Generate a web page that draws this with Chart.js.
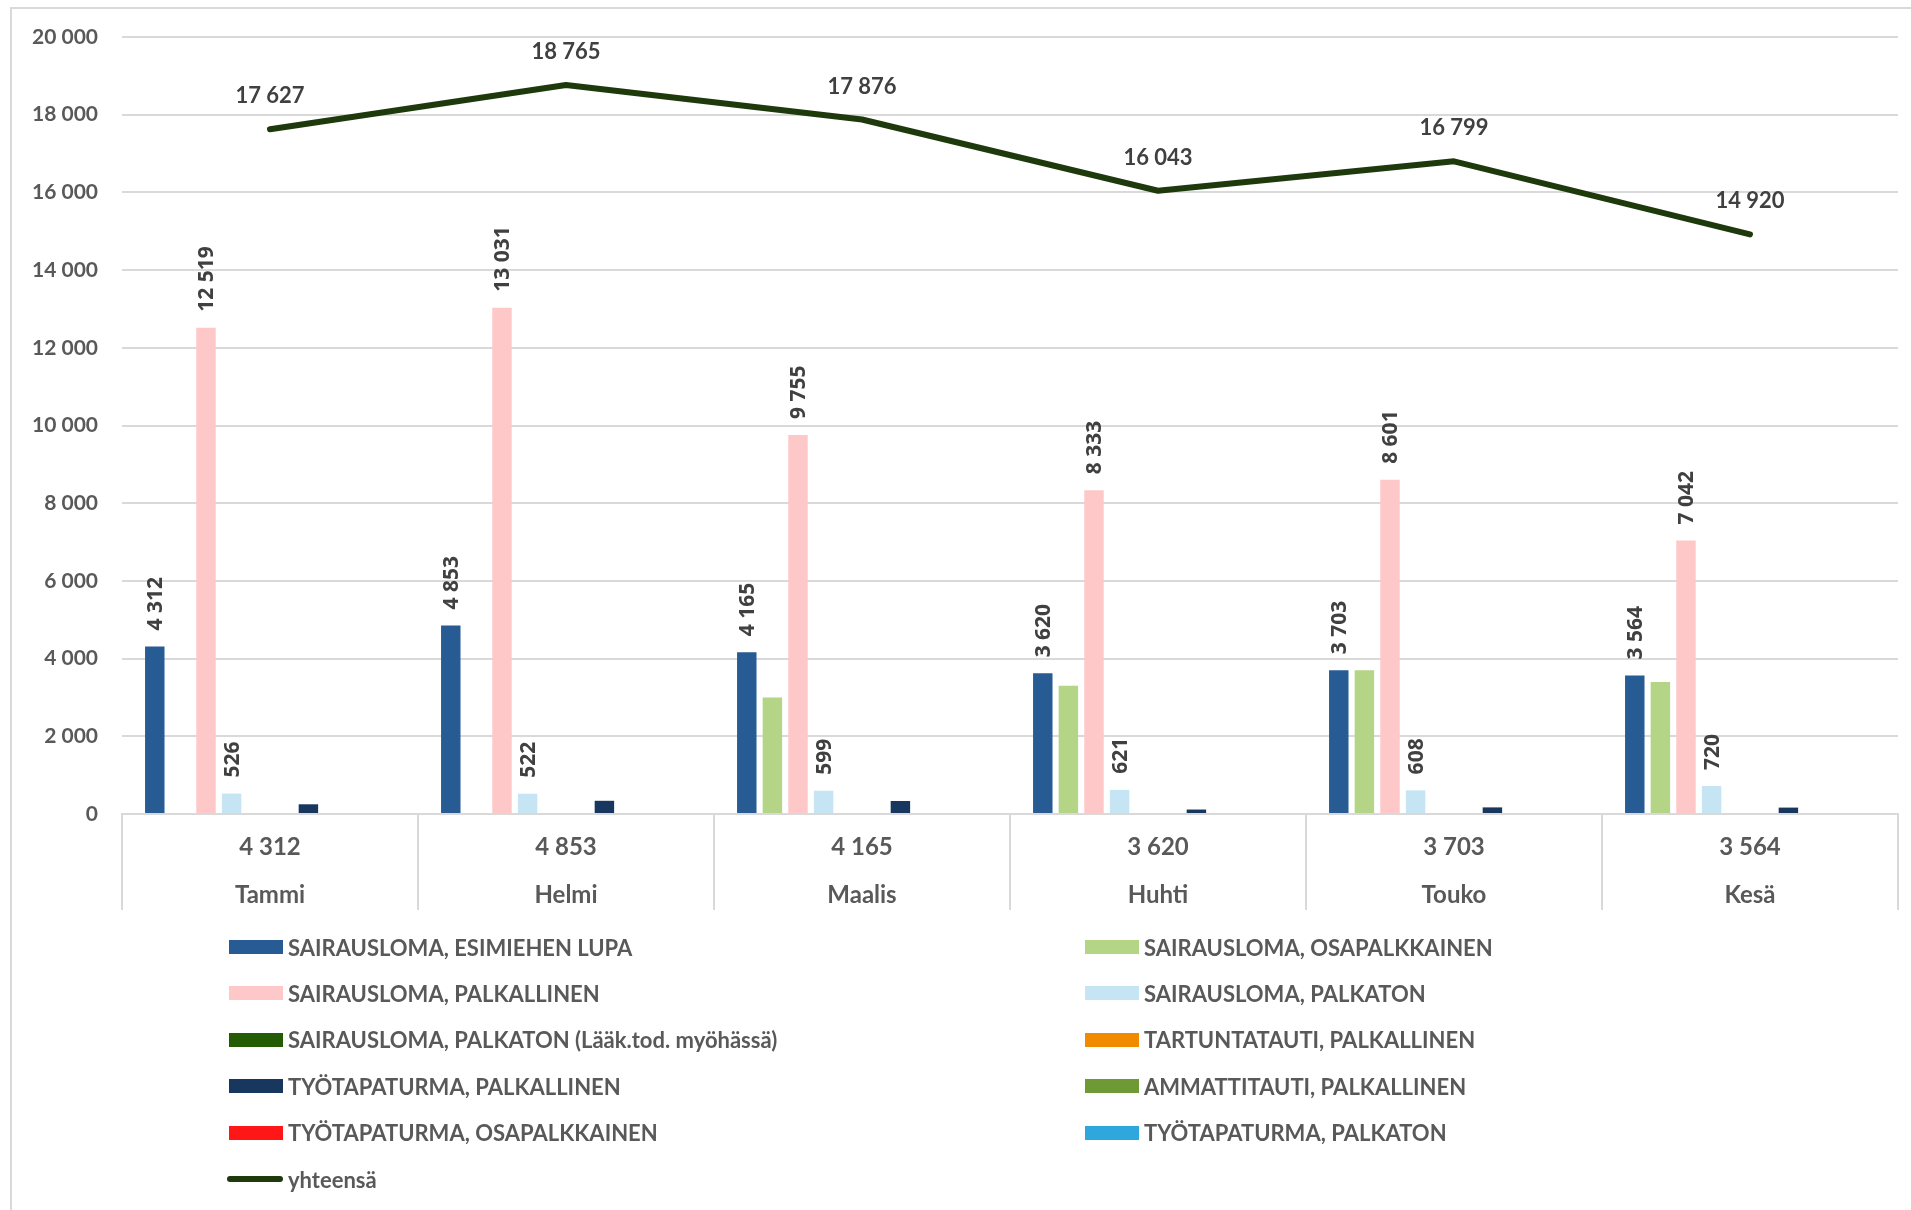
<!DOCTYPE html>
<html>
<head>
<meta charset="utf-8">
<script src="https://cdn.jsdelivr.net/npm/chart.js@4.4.1/dist/chart.umd.min.js"></script>
<style>
  html, body { margin: 0; padding: 0; background: #fff; overflow: hidden; width: 1911px; height: 1210px; }
  #frame { position: absolute; left: 10px; top: 7px; width: 2100px; height: 1400px; border: 2px solid #d9d9d9; box-sizing: border-box; }
  #wrap { position: absolute; left: 0; top: 0; width: 1911px; height: 1210px; }
  #legend { position: absolute; left: 0; top: 0; width: 1911px; height: 1210px; pointer-events: none; }
  .item { position: absolute; height: 30px; display: flex; align-items: center; font: bold 22px Lato, sans-serif; color: #595959; white-space: nowrap; }
  .sw { width: 54px; height: 14px; margin-right: 5px; }
  .ln { width: 56px; height: 6px; border-radius: 3px; margin-right: 5px; }
</style>
</head>
<body>
<div id="frame"></div>
<div id="wrap"><canvas id="c" width="1911" height="1210"></canvas></div>
<div id="legend"></div>
<script>
// ---- data ----
const months = ['Tammi', 'Helmi', 'Maalis', 'Huhti', 'Touko', 'Kesä'];
const esimiehenLupa = [4312, 4853, 4165, 3620, 3703, 3564];
const osapalkkainen = [0, 0, 3000, 3300, 3700, 3400];
const palkallinen = [12519, 13031, 9755, 8333, 8601, 7042];
const palkaton = [526, 522, 599, 621, 608, 720];
const palkatonLaak = [0, 0, 0, 0, 0, 0];
const tartuntatauti = [0, 0, 0, 0, 0, 0];
const tyotapPalkallinen = [250, 340, 335, 115, 170, 165];
const ammattitauti = [0, 0, 0, 0, 0, 0];
const tyotapOsapalkkainen = [0, 0, 0, 0, 0, 0];
const tyotapPalkaton = [0, 0, 0, 0, 0, 0];
const yhteensa = [17627, 18765, 17876, 16043, 16799, 14920];
const tableRow = esimiehenLupa;
const yMin = 0, yMax = 20000, yStep = 2000;

const seriesNames = [
  'SAIRAUSLOMA, ESIMIEHEN LUPA',
  'SAIRAUSLOMA, OSAPALKKAINEN',
  'SAIRAUSLOMA, PALKALLINEN',
  'SAIRAUSLOMA, PALKATON',
  'SAIRAUSLOMA, PALKATON (Lääk.tod. myöhässä)',
  'TARTUNTATAUTI, PALKALLINEN',
  'TYÖTAPATURMA, PALKALLINEN',
  'AMMATTITAUTI, PALKALLINEN',
  'TYÖTAPATURMA, OSAPALKKAINEN',
  'TYÖTAPATURMA, PALKATON',
  'yhteensä'
];
const seriesValues = [esimiehenLupa, osapalkkainen, palkallinen, palkaton, palkatonLaak,
  tartuntatauti, tyotapPalkallinen, ammattitauti, tyotapOsapalkkainen, tyotapPalkaton];
const seriesColors = ['#275b94', '#b4d486', '#ffc8c8', '#c6e5f4', '#245c06', '#f28a00',
  '#17375e', '#6e9a35', '#ff1616', '#2ea7dd'];
const labelled = [true, false, true, true, false, false, false, false, false, false];
const lineColor = '#1e3a0c';

function fmt(v) { return String(v).replace(/\B(?=(\d{3})+(?!\d))/g, ' '); }

const datasets = seriesValues.map((vals, i) => ({
  type: 'bar',
  label: seriesNames[i],
  data: vals,
  backgroundColor: seriesColors[i],
  borderWidth: 0,
  categoryPercentage: 0.865,
  barPercentage: 0.76,
  showValues: labelled[i]
}));
datasets.push({
  type: 'line',
  label: seriesNames[10],
  data: yhteensa,
  borderColor: lineColor,
  backgroundColor: lineColor,
  borderWidth: 6,
  pointRadius: 0,
  tension: 0,
  fill: false,
  borderCapStyle: 'round',
  borderJoinStyle: 'round',
  showValues: true
});

const valueLabels = {
  id: 'valueLabels',
  afterDatasetsDraw(chart) {
    const ctx = chart.ctx;
    chart.data.datasets.forEach((ds, di) => {
      if (!ds.showValues) return;
      const meta = chart.getDatasetMeta(di);
      meta.data.forEach((el, i) => {
        const v = ds.data[i];
        ctx.save();
        ctx.fillStyle = '#404040';
        if (ds.type === 'line') {
          ctx.font = 'bold 22px Lato';
          ctx.textAlign = 'center';
          ctx.textBaseline = 'middle';
          ctx.fillText(fmt(v), el.x, el.y - 33);
        } else {
          ctx.font = 'bold 21px "Open Sans"';
          ctx.translate(el.x, el.y - 16);
          ctx.rotate(-Math.PI / 2);
          ctx.textAlign = 'left';
          ctx.textBaseline = 'middle';
          ctx.fillText(fmt(v), 0, 1);
        }
        ctx.restore();
      });
    });
  }
};

const chart = new Chart(document.getElementById('c'), {
  type: 'bar',
  data: { labels: months, datasets },
  options: {
    responsive: false,
    animation: false,
    devicePixelRatio: 1,
    layout: { padding: { left: 10, right: 13, top: 37, bottom: 296 } },
    plugins: { legend: { display: false }, tooltip: { enabled: false } },
    scales: {
      x: {
        offset: true,
        grid: { offset: true, drawOnChartArea: false, drawTicks: true, tickLength: 96, color: '#d9d9d9', lineWidth: 2 },
        border: { display: true, color: '#d9d9d9', width: 2 },
        ticks: {
          padding: -87,
          color: '#595959',
          font: { family: 'Lato', size: 24, weight: 'bold', lineHeight: '48px' },
          maxRotation: 0,
          callback: (v, i) => [fmt(tableRow[i]), months[i]]
        },
        afterFit: (s) => { s.height = 100; }
      },
      y: {
        min: yMin, max: yMax,
        grid: { color: '#d9d9d9', lineWidth: 2, drawTicks: false },
        border: { display: false },
        ticks: {
          stepSize: yStep,
          padding: 24,
          color: '#595959',
          font: { family: 'Lato', size: 21, weight: 'bold' },
          callback: (v) => fmt(v)
        },
        afterFit: (s) => { s.width = 112; }
      }
    }
  },
  plugins: [valueLabels]
});

// ---- HTML legend (2 columns, row-wise) ----
const legend = document.getElementById('legend');
const rowY0 = 947, rowStep = 46.4, colX = [227, 1083];
chart.data.datasets.forEach((ds, i) => {
  const row = Math.floor(i / 2), col = i % 2;
  const it = document.createElement('div');
  it.className = 'item';
  it.style.left = colX[col] + 'px';
  it.style.top = (rowY0 + row * rowStep - 15) + 'px';
  const sw = document.createElement('div');
  if (ds.type === 'line') {
    sw.className = 'ln';
    sw.style.background = ds.borderColor;
  } else {
    sw.className = 'sw';
    sw.style.background = ds.backgroundColor;
    sw.style.marginLeft = '2px';
  }
  const tx = document.createElement('span');
  tx.textContent = ds.label;
  it.appendChild(sw);
  it.appendChild(tx);
  legend.appendChild(it);
});
</script>
</body>
</html>
